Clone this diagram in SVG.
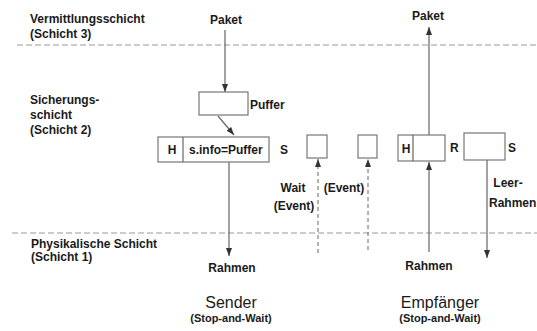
<svg xmlns="http://www.w3.org/2000/svg" width="537" height="331" viewBox="0 0 537 331">
  <defs>
    <marker id="arrow" viewBox="0 0 8 8" refX="8" refY="4" markerWidth="8" markerHeight="8" markerUnits="userSpaceOnUse" orient="auto">
      <path d="M0,1 L8,4 L0,7 Z" fill="#333"/>
    </marker>
    <style>
      .lbl { font-family: "Liberation Sans", Arial, sans-serif; font-size: 12px; font-weight: bold; fill: #1a1a1a; }
      .big { font-family: "Liberation Sans", Arial, sans-serif; font-size: 16px; fill: #1a1a1a; }
      .sub { font-family: "Liberation Sans", Arial, sans-serif; font-size: 11px; font-weight: bold; fill: #1a1a1a; }
      .box { fill: #fff; stroke: #777; stroke-width: 1.2; }
      .layer { stroke: #999; stroke-width: 1.2; stroke-dasharray: 6 3; fill: none; }
      .flow { stroke: #666; stroke-width: 1.2; fill: none; marker-end: url(#arrow); }
      .event { stroke: #666; stroke-width: 1; stroke-dasharray: 4 3; fill: none; marker-end: url(#arrow); }
      .plain { stroke: #666; stroke-width: 1.2; fill: none; }
    </style>
  </defs>
  <rect width="537" height="331" fill="#fff"/>

  <!-- layer boundaries -->
  <g id="layers">
    <line class="layer" x1="17" y1="45" x2="537" y2="45"/>
    <line class="layer" x1="12" y1="233" x2="537" y2="233"/>
    <text class="lbl" x="30" y="23">Vermittlungsschicht</text>
    <text class="lbl" x="30" y="38">(Schicht 3)</text>
    <text class="lbl" x="30" y="104">Sicherungs-</text>
    <text class="lbl" x="30" y="119">schicht</text>
    <text class="lbl" x="30" y="134">(Schicht 2)</text>
    <text class="lbl" x="31" y="248">Physikalische Schicht</text>
    <text class="lbl" x="31" y="261">(Schicht 1)</text>
  </g>

  <!-- connectors -->
  <g id="connectors">
    <line class="flow" x1="225" y1="30" x2="225" y2="92"/>
    <line class="flow" x1="218" y1="116" x2="234" y2="135"/>
    <line class="flow" x1="229" y1="162" x2="229" y2="256"/>
    <line class="event" x1="318" y1="253" x2="318" y2="159"/>
    <line class="event" x1="368" y1="250" x2="368" y2="159"/>
    <line class="flow" x1="429" y1="252" x2="429" y2="162"/>
    <line class="flow" x1="429" y1="135" x2="429" y2="27"/>
    <line class="flow" x1="487" y1="160" x2="487" y2="258"/>
  </g>

  <!-- sender side -->
  <g id="paket-sender">
    <text class="lbl" x="226" y="24" text-anchor="middle">Paket</text>
  </g>
  <g id="puffer">
    <rect class="box" x="199" y="92" width="49" height="23"/>
    <text class="lbl" x="250" y="109">Puffer</text>
  </g>
  <g id="sendeframe">
    <rect class="box" x="158" y="137" width="111" height="25"/>
    <line class="plain" x1="183" y1="137" x2="183" y2="162"/>
    <text class="lbl" x="172" y="154" text-anchor="middle">H</text>
    <text class="lbl" x="189" y="154">s.info=Puffer</text>
    <text class="lbl" x="280" y="154">S</text>
  </g>
  <g id="wait-box">
    <rect class="box" x="307" y="135" width="20" height="23"/>
  </g>
  <g id="event-box">
    <rect class="box" x="358" y="135" width="19" height="23"/>
  </g>
  <g id="event-labels">
    <text class="lbl" x="293" y="192" text-anchor="middle">Wait</text>
    <text class="lbl" x="294" y="210" text-anchor="middle">(Event)</text>
    <text class="lbl" x="344" y="192" text-anchor="middle">(Event)</text>
  </g>
  <g id="rahmen-sender">
    <text class="lbl" x="232" y="272" text-anchor="middle">Rahmen</text>
  </g>
  <g id="sender">
    <text class="big" x="231" y="308" text-anchor="middle">Sender</text>
    <text class="sub" x="231" y="322" text-anchor="middle">(Stop-and-Wait)</text>
  </g>

  <!-- receiver side -->
  <g id="paket-empfaenger">
    <text class="lbl" x="428" y="20" text-anchor="middle">Paket</text>
  </g>
  <g id="empfangsframe">
    <rect class="box" x="398" y="135" width="47" height="26"/>
    <line class="plain" x1="413" y1="135" x2="413" y2="161"/>
    <text class="lbl" x="406" y="153" text-anchor="middle">H</text>
    <text class="lbl" x="450" y="152">R</text>
  </g>
  <g id="leerframe">
    <rect class="box" x="464" y="133" width="41" height="27"/>
    <text class="lbl" x="508" y="152">S</text>
    <text class="lbl" x="508" y="187" text-anchor="middle">Leer-</text>
    <text class="lbl" x="489" y="207">Rahmen</text>
  </g>
  <g id="rahmen-empfaenger">
    <text class="lbl" x="429" y="270" text-anchor="middle">Rahmen</text>
  </g>
  <g id="empfaenger">
    <text class="big" x="440" y="308" text-anchor="middle">Empfänger</text>
    <text class="sub" x="440" y="322" text-anchor="middle">(Stop-and-Wait)</text>
  </g>
</svg>
